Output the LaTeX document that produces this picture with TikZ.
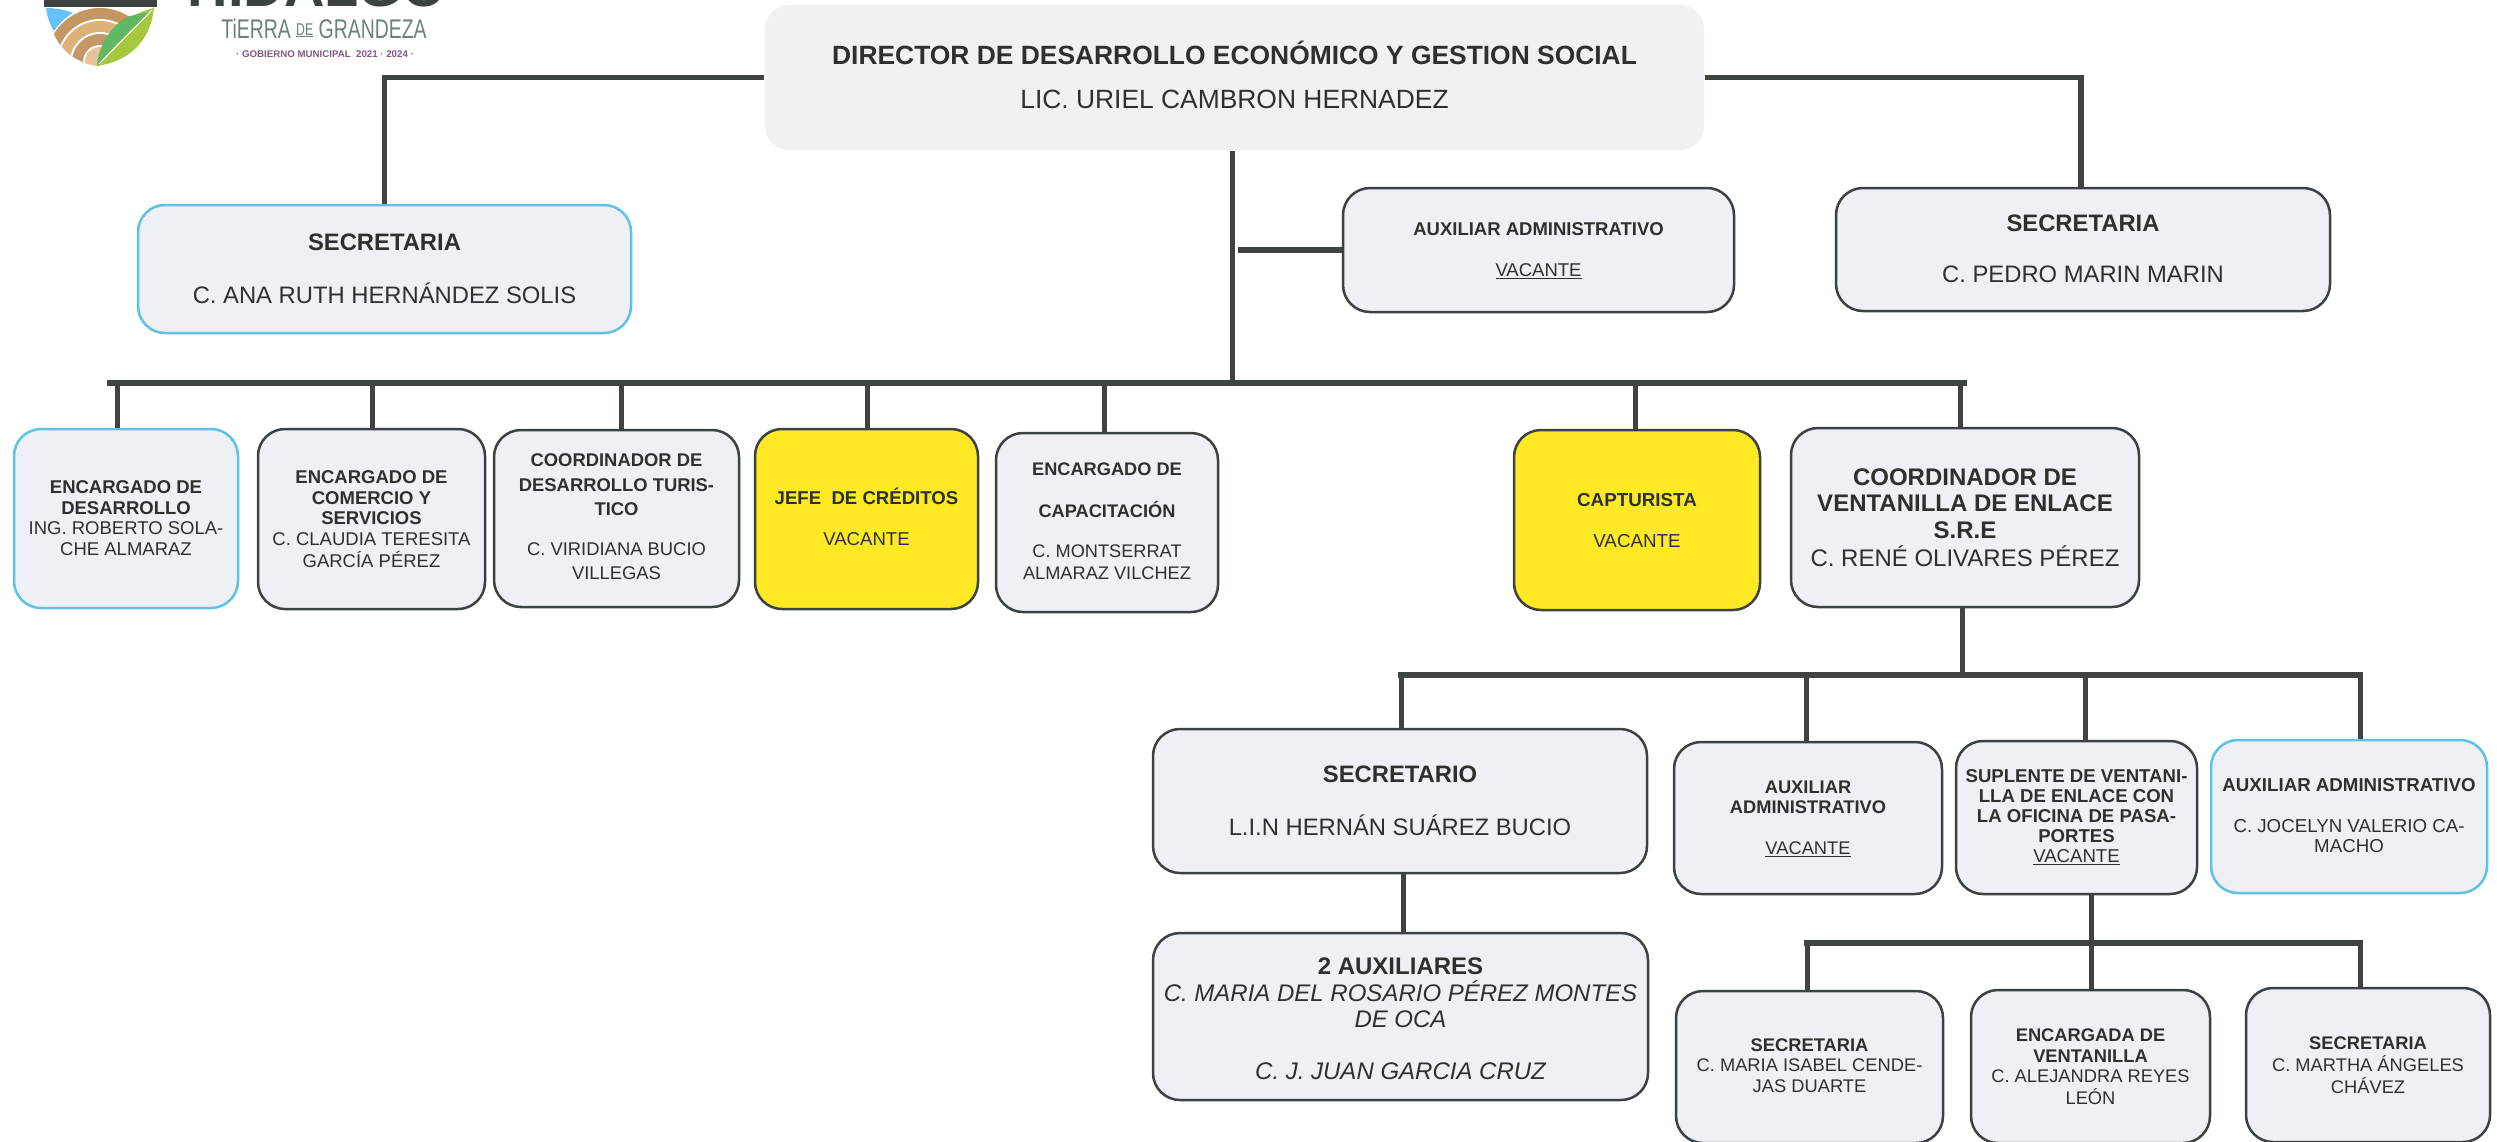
\documentclass[tikz,border=0pt]{standalone}
\usepackage{fontspec}
\setmainfont{Liberation Sans}
\newcommand{\sz}[2]{\fontsize{#1pt}{#2pt}\selectfont}
\newcommand{\bd}[1]{\textbf{#1}}
\definecolor{boxfill}{HTML}{EEF0F6}
\definecolor{dirfill}{HTML}{F1F1F4}
\definecolor{edgedark}{HTML}{3C4142}
\definecolor{edgecyan}{HTML}{5CC3E6}
\definecolor{vacyellow}{HTML}{FFE925}
\definecolor{inktext}{HTML}{2C3130}
\definecolor{linedark}{HTML}{404440}
\tikzset{
  orgbox/.style={draw=edgedark,line width=2.5pt,fill=boxfill,rounded corners=27pt,inner sep=0pt,text=inktext},
  cyanbox/.style={draw=edgecyan},
  yelbox/.style={fill=vacyellow},
  dirbox/.style={draw=none,fill=dirfill,rounded corners=24pt},
  conn/.style={draw=linedark,line width=5pt},
  topline/.style={draw=linedark,line width=5.5pt},
  busline/.style={draw=linedark,line width=6pt,line cap=rect},
  logotxt/.style={inner sep=0pt,anchor=base}
}
\newcommand{\orgnode}[8][]{%
  \pgfmathsetmacro{\ox}{(#3+#5)/2}%
  \pgfmathsetmacro{\oy}{(#4+#6)/2}%
  \pgfmathsetmacro{\ow}{#5-#3}%
  \pgfmathsetmacro{\oh}{#6-#4}%
  \pgfmathsetmacro{\od}{(#4+#6)/2-#7}%
  \node[orgbox,#1,minimum width=\ow pt,minimum height=\oh pt] (#2) at (\ox,\oy)
    {\makebox[0pt]{\raisebox{\dimexpr\od pt-.41em\relax}[0pt][0pt]{\begin{tabular}{@{}c@{}}#8\end{tabular}}}};%
}
\begin{document}
\begin{tikzpicture}[x=1pt,y=-1pt]
\useasboundingbox (0,0) rectangle (2497,1141);
\fill[white] (0,0) rectangle (2497,1141);
% logo
\fill[fill=edgedark] (44,-2) rectangle (157,7);
\fill[fill=blue!40!cyan!60!white] (46,8) .. controls (56,8) and (66,10) .. (73,13) .. controls (64,18) and (58,25) .. (54,31) .. controls (50,25) and (47,16) .. (46,8) -- cycle;
\begin{scope}
\clip (46,8) -- (160,8) -- (97,66) .. controls (75,62) and (60,50) .. (52,30) -- cycle;
\fill[fill={rgb,255:red,196;green,150;blue,98}] (100,62) circle (54);
\fill[white] (100,62) circle (43);
\fill[fill={rgb,255:red,221;green,178;blue,122}] (100,62) circle (41);
\fill[white] (100,62) circle (30);
\fill[fill={rgb,255:red,198;green,152;blue,104}] (100,62) circle (28);
\fill[white] (100,62) circle (17);
\fill[fill={rgb,255:red,228;green,196;blue,150}] (100,62) circle (15);
\end{scope}
\fill[fill={rgb,255:red,166;green,200;blue,62}] (154,8) .. controls (125,15) and (100,35) .. (97,66) .. controls (125,62) and (150,45) .. (154,8) -- cycle;
\fill[fill={rgb,255:red,96;green,184;blue,100}] (97,66) .. controls (100,35) and (120,20) .. (130,16) -- (150,12) .. controls (130,30) and (110,50) .. (97,66) -- cycle;
\draw[white,line width=1pt] (99,64) -- (152,10);
\node[logotxt,font=\sz{56}{56}\bfseries,text=edgedark] (lgA) at (317,6) {HIDALGO};
\node[logotxt,font=\sz{27}{27},text=gray!85!teal] (lgB) at (324,38) {\scalebox{.72}[1]{TiERRA {\sz{17}{17}\raisebox{3pt}{\underline{DE}}} GRANDEZA}};
\node[logotxt,font=\sz{9.7}{11}\bfseries,text=violet!30!gray] (lgC) at (325,57) {· GOBIERNO MUNICIPAL\ \ 2021 · 2024 ·};
% boxes
\orgnode[dirbox,font=\sz{26.4}{26}]{dir}{765}{5}{1704}{150}{74}{\bd{DIRECTOR DE DESARROLLO ECONÓMICO Y GESTION SOCIAL}\\[18pt]LIC. URIEL CAMBRON HERNADEZ}
\orgnode[cyanbox,font=\sz{23.8}{24}]{secL}{138}{205}{631}{333}{269}{\bd{SECRETARIA}\\[25pt]C. ANA RUTH HERNÁNDEZ SOLIS}
\orgnode[font=\sz{18.5}{18}]{auxA}{1343}{188}{1734}{312}{249}{\bd{AUXILIAR ADMINISTRATIVO}\\[22pt]\underline{VACANTE}}
\orgnode[font=\sz{23.8}{24}]{secR}{1836}{188}{2330}{311}{249}{\bd{SECRETARIA}\\[27pt]C. PEDRO MARIN MARIN}
\orgnode[cyanbox,font=\sz{18.5}{20.5}]{ed}{14}{429}{238}{608}{517}{\bd{ENCARGADO DE}\\\bd{DESARROLLO}\\ING. ROBERTO SOLA-\\CHE ALMARAZ}
\orgnode[font=\sz{18.5}{20.5}]{com}{258}{429}{485}{609}{518}{\bd{ENCARGADO DE}\\\bd{COMERCIO Y}\\\bd{SERVICIOS}\\C. CLAUDIA TERESITA\\GARCÍA PÉREZ}
\orgnode[font=\sz{18.4}{24.5}]{tur}{494}{430}{739}{607}{515}{\bd{COORDINADOR DE}\\\bd{DESARROLLO TURIS-}\\\bd{TICO}\\[15pt]C. VIRIDIANA BUCIO\\VILLEGAS}
\orgnode[yelbox,font=\sz{18.6}{20}]{jefe}{755}{429}{978}{609}{516}{\bd{JEFE\ \ DE CRÉDITOS}\\[21pt]VACANTE}
\orgnode[font=\sz{18.2}{22}]{cap}{996}{433}{1218}{612}{520}{\bd{ENCARGADO DE}\\[19pt]\bd{CAPACITACIÓN}\\[18pt]C. MONTSERRAT\\ALMARAZ VILCHEZ}
\orgnode[yelbox,font=\sz{18.8}{20}]{capt}{1514}{430}{1760}{610}{520}{\bd{CAPTURISTA}\\[21pt]VACANTE}
\orgnode[font=\sz{24}{26.5}]{cv}{1791}{428}{2139}{607}{517}{\bd{COORDINADOR DE}\\\bd{VENTANILLA DE ENLACE}\\\bd{S.R.E}\\C. RENÉ OLIVARES PÉREZ}
\orgnode[font=\sz{23.8}{24}]{stario}{1153}{729}{1647}{873}{801}{\bd{SECRETARIO}\\[25pt]L.I.N HERNÁN SUÁREZ BUCIO}
\orgnode[font=\sz{24}{26}\itshape]{aux2}{1153}{933}{1648}{1100}{1018}{\bd{\upshape 2 AUXILIARES}\\[-2pt]C. MARIA DEL ROSARIO PÉREZ MONTES\\DE OCA\\[26pt]C. J. JUAN GARCIA CRUZ}
\orgnode[font=\sz{18.3}{20.5}]{auxB}{1674}{742}{1942}{894}{816.5}{\bd{AUXILIAR}\\\bd{ADMINISTRATIVO}\\[20pt]\underline{VACANTE}}
\orgnode[font=\sz{18.6}{20}]{sup}{1956}{741}{2197}{894}{815.5}{\bd{SUPLENTE DE VENTANI-}\\\bd{LLA DE ENLACE CON}\\\bd{LA OFICINA DE PASA-}\\\bd{PORTES}\\\underline{VACANTE}}
\orgnode[cyanbox,font=\sz{18.7}{20}]{joc}{2211}{740}{2487}{893}{814.5}{\bd{AUXILIAR ADMINISTRATIVO}\\[21pt]C. JOCELYN VALERIO CA-\\MACHO}
\orgnode[font=\sz{18.3}{20.5}]{sb1}{1676}{991}{1943}{1143}{1064.5}{\bd{SECRETARIA}\\C. MARIA ISABEL CENDE-\\JAS DUARTE}
\orgnode[font=\sz{18.3}{20.5}]{sb2}{1971}{990}{2210}{1143}{1066}{\bd{ENCARGADA DE}\\\bd{VENTANILLA}\\C. ALEJANDRA REYES\\LEÓN}
\orgnode[font=\sz{18.3}{20.5}]{sb3}{2246}{988}{2490}{1142}{1064}{\bd{SECRETARIA}\\C. MARTHA ÁNGELES\\CHÁVEZ}
% connector points
\coordinate (b1L) at (110,383);
\coordinate (b1R) at (1964,383);
\coordinate (trk) at (1232,383);
\coordinate (auxJ) at (1238,250);
\coordinate (d1) at (117,383);
\coordinate (d2) at (372,383);
\coordinate (d3) at (621,383);
\coordinate (d4) at (867,383);
\coordinate (d5) at (1104,383);
\coordinate (d6) at (1635,383);
\coordinate (d7) at (1960,383);
\coordinate (b2L) at (1401,675);
\coordinate (b2R) at (2360,675);
\coordinate (t2) at (1962,675);
\coordinate (e1) at (1806,675);
\coordinate (e2) at (2085,675);
\coordinate (b3L) at (1807,943);
\coordinate (b3R) at (2360,943);
\coordinate (t3) at (2091,943);
% connectors
\draw[topline] (dir.west) -| (secL.north);
\draw[topline] (dir.east) -| (2081,188);
\draw[conn] (trk |- dir.south) -- (trk);
\draw[topline] (auxJ) -- (auxJ -| auxA.west);
\draw[busline] (b1L) -- (b1R);
\draw[conn] (d1) -- (d1 |- ed.north);
\draw[conn] (d2) -- (d2 |- com.north);
\draw[conn] (d3) -- (d3 |- tur.north);
\draw[conn] (d4) -- (d4 |- jefe.north);
\draw[conn] (d5) -- (d5 |- cap.north);
\draw[conn] (d6) -- (d6 |- capt.north);
\draw[conn] (d7) -- (d7 |- cv.north);
\draw[conn] (t2 |- cv.south) -- (t2);
\draw[busline] (b2L) -- (b2R);
\draw[conn] (b2L) -- (b2L |- stario.north);
\draw[conn] (e1) -- (e1 |- auxB.north);
\draw[conn] (e2) -- (e2 |- sup.north);
\draw[conn] (b2R) -- (b2R |- joc.north);
\draw[conn] (stario.south -| 1403,0) -- (aux2.north -| 1403,0);
\draw[conn] (t3 |- sup.south) -- (t3 |- sb2.north);
\draw[busline] (b3L) -- (b3R);
\draw[conn] (b3L) -- (b3L |- sb1.north);
\draw[conn] (b3R) -- (b3R |- sb3.north);
\end{tikzpicture}
\end{document}
